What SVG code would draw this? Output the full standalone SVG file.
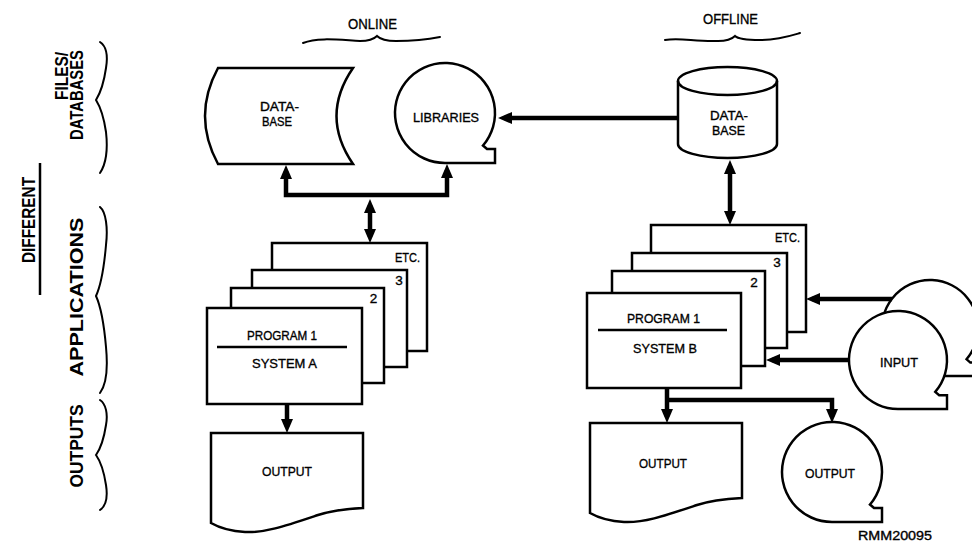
<svg xmlns="http://www.w3.org/2000/svg" xmlns:xlink="http://www.w3.org/1999/xlink" width="972" height="543" viewBox="0 0 972 543">
<style>
.shape{fill:#fff;stroke:#000;stroke-width:2.5;stroke-linejoin:miter}
.thin{fill:none;stroke:#000;stroke-width:2.5}
.brace{fill:none;stroke:#000;stroke-width:2;stroke-linecap:round}
.conn{fill:none;stroke:#000;stroke-width:4.5;stroke-linejoin:miter}
.lbl{font-family:"Liberation Sans",Arial,sans-serif;font-size:13.5px;fill:#000;stroke:#000;stroke-width:0.35;text-anchor:middle}
.sm{font-size:12.5px}
.big{font-family:"Liberation Sans",Arial,sans-serif;font-size:18px;font-weight:bold;fill:#000;text-anchor:middle}
.hdr{font-family:"Liberation Sans",Arial,sans-serif;font-size:15px;fill:#000;stroke:#000;stroke-width:0.35;text-anchor:middle}
</style>
<defs>
<marker id="ah" markerUnits="userSpaceOnUse" markerWidth="16" markerHeight="14" refX="8" refY="6" orient="auto-start-reverse">
<path d="M0,0 L14,6 L0,12 Z" fill="#000"/>
</marker>
<path id="reel" d="M0,50 A50,50 0 1,1 38,32.5 L42,36 L50,36 L50,50 Z"/>
<path id="doc" d="M211,433 L363,433 L363,508 C345,509 330,511 318,515 C285,526 265,533 245,532 C228,531 218,527 211,523 Z"/>
</defs>
<rect width="972" height="543" fill="#fff"/>

<g id="side-labels">
<text class="big" transform="translate(68,76) rotate(-90)" textLength="48" lengthAdjust="spacingAndGlyphs">FILES/</text>
<text class="big" transform="translate(83,95) rotate(-90)" textLength="90" lengthAdjust="spacingAndGlyphs">DATABASES</text>
<text class="big" transform="translate(35,220) rotate(-90)" textLength="86" lengthAdjust="spacingAndGlyphs">DIFFERENT</text>
<line x1="40" y1="163" x2="40" y2="295" stroke="#000" stroke-width="2.5"/>
<text class="big" transform="translate(83,297) rotate(-90)" textLength="159" lengthAdjust="spacingAndGlyphs">APPLICATIONS</text>
<text class="big" transform="translate(83,446) rotate(-90)" textLength="83" lengthAdjust="spacingAndGlyphs">OUTPUTS</text>
<path class="brace" d="M100,42 C106,46 108,56 106,68 C104,82 101,92 96,100 C101,108 104,118 106,132 C108,150 106,164 100,173"/>
<path class="brace" d="M100,207 C106,212 108,228 106,245 C104,268 101,285 96,296 C101,307 104,324 106,347 C108,368 106,385 100,393"/>
<path class="brace" d="M100,400 C106,404 108,414 106,425 C104,438 101,448 96,455 C101,462 104,472 106,485 C108,498 106,506 100,510"/>
</g>

<g id="online-header">
<text class="hdr" x="372.5" y="29" textLength="49" lengthAdjust="spacingAndGlyphs">ONLINE</text>
<path class="brace" d="M303,43 C318,37 340,40 360,41 C370,41 374,39 377,36 C380,39 385,41 396,41 C415,41 430,39 440,37"/>
</g>
<g id="offline-header">
<text class="hdr" x="730.5" y="24" textLength="55" lengthAdjust="spacingAndGlyphs">OFFLINE</text>
<path class="brace" d="M665,40 C680,37 695,42 718,41 C727,41 732,39 735,36 C738,39 745,40 760,40 C778,40 790,36 800,33"/>
</g>

<g id="online-database">
<path class="shape" d="M218,68 L353,68 Q320,116 353,164 L218,164 Q192,116 218,68 Z"/>
<text class="lbl sm" x="260" y="111" style="text-anchor:start" textLength="39" lengthAdjust="spacingAndGlyphs">DATA-</text>
<text class="lbl sm" x="262" y="126" style="text-anchor:start" textLength="30" lengthAdjust="spacingAndGlyphs">BASE</text>
</g>

<g id="libraries">
<use xlink:href="#reel" href="#reel" class="shape" transform="translate(445,113)"/>
<text class="lbl" x="446" y="122" textLength="66" lengthAdjust="spacingAndGlyphs">LIBRARIES</text>
</g>

<g id="offline-database">
<path class="shape" d="M678,81 A49.5,14 0 0,1 777,81 L777,144 A49.5,14 0 0,1 678,144 Z"/>
<path class="thin" d="M678,81 A49.5,14 0 0,0 777,81"/>
<text class="lbl sm" x="729" y="120" textLength="38" lengthAdjust="spacingAndGlyphs">DATA-</text>
<text class="lbl sm" x="728.5" y="135" textLength="33" lengthAdjust="spacingAndGlyphs">BASE</text>
</g>

<g id="stack-a">
<rect class="shape" x="272" y="243" width="155" height="108"/>
<text class="lbl" x="420" y="262" style="text-anchor:end" textLength="25" lengthAdjust="spacingAndGlyphs">ETC.</text>
<rect class="shape" x="252" y="270" width="155" height="97"/>
<text class="lbl" x="399" y="285">3</text>
<rect class="shape" x="231" y="288" width="153" height="95"/>
<text class="lbl" x="373.5" y="303">2</text>
<rect class="shape" x="207" y="308" width="155" height="96"/>
<text class="lbl" x="282" y="340" textLength="70" lengthAdjust="spacingAndGlyphs">PROGRAM 1</text>
<line class="thin" x1="217" y1="347" x2="347" y2="347"/>
<text class="lbl" x="284.5" y="368" textLength="65" lengthAdjust="spacingAndGlyphs">SYSTEM A</text>
</g>

<g id="stack-b">
<rect class="shape" x="651" y="225" width="155" height="107"/>
<text class="lbl" x="800" y="242" style="text-anchor:end" textLength="25" lengthAdjust="spacingAndGlyphs">ETC.</text>
<rect class="shape" x="632" y="253" width="155" height="95"/>
<text class="lbl" x="777" y="267">3</text>
<rect class="shape" x="612" y="271" width="153" height="95"/>
<text class="lbl" x="754" y="287">2</text>
<rect class="shape" x="587" y="293" width="154" height="95"/>
<text class="lbl" x="663.5" y="323" textLength="73" lengthAdjust="spacingAndGlyphs">PROGRAM 1</text>
<line class="thin" x1="598" y1="330" x2="727" y2="330"/>
<text class="lbl" x="665" y="353" textLength="64" lengthAdjust="spacingAndGlyphs">SYSTEM B</text>
</g>

<g id="input">
<use xlink:href="#reel" href="#reel" class="shape" transform="translate(930,328) scale(0.96)"/>
<use xlink:href="#reel" href="#reel" class="shape" transform="translate(898,360) scale(0.98)"/>
<text class="lbl" x="899" y="367" textLength="38" lengthAdjust="spacingAndGlyphs">INPUT</text>
</g>

<g id="output-a">
<use xlink:href="#doc" href="#doc" class="shape"/>
<text class="lbl" x="287" y="476" textLength="50" lengthAdjust="spacingAndGlyphs">OUTPUT</text>
</g>

<g id="output-b-doc">
<use xlink:href="#doc" href="#doc" class="shape" transform="translate(379,-10)"/>
<text class="lbl" x="663" y="468" textLength="48" lengthAdjust="spacingAndGlyphs">OUTPUT</text>
</g>

<g id="output-b-reel">
<use xlink:href="#reel" href="#reel" class="shape" transform="translate(832,472)"/>
<text class="lbl" x="830" y="478" textLength="50" lengthAdjust="spacingAndGlyphs">OUTPUT</text>
</g>

<g id="connectors">
<path class="conn" d="M286,171 L286,195 L447,195 L447,170" marker-start="url(#ah)" marker-end="url(#ah)"/>
<path class="conn" d="M370,205 L370,237" marker-start="url(#ah)" marker-end="url(#ah)"/>
<path class="conn" d="M678,118 L504,118" marker-end="url(#ah)"/>
<path class="conn" d="M730,166 L730,219" marker-start="url(#ah)" marker-end="url(#ah)"/>
<path class="conn" d="M287,405 L287,427" marker-end="url(#ah)"/>
<path class="conn" d="M667,389 L667,417" marker-end="url(#ah)"/>
<path class="conn" d="M667,400 L832,400 L832,417" marker-end="url(#ah)"/>
<path class="conn" d="M892,299 L812,299" marker-end="url(#ah)"/>
<path class="conn" d="M848,360 L772,360" marker-end="url(#ah)"/>
</g>

<g id="figure-id">
<text class="lbl sm" x="895" y="540" textLength="74" lengthAdjust="spacingAndGlyphs">RMM20095</text>
</g>
</svg>
